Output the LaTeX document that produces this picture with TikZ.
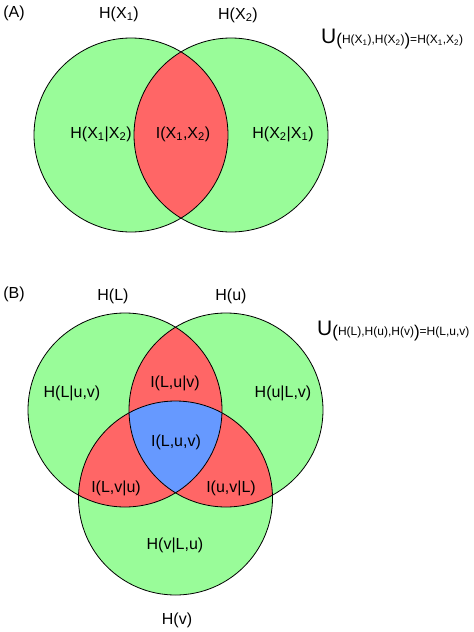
\documentclass[tikz,border=0pt]{standalone}
\usepackage{fontspec}
\setmainfont{Liberation Sans}
\definecolor{vgreen}{RGB}{153,252,153}
\definecolor{vred}{RGB}{255,102,102}
\definecolor{vblue}{RGB}{102,153,255}
\newcommand{\bigU}{{\fontsize{21}{21}\selectfont U}}
\newcommand{\bigpar}[1]{\raisebox{-1.5pt}{\fontsize{17}{17}\selectfont #1}}
\begin{document}
\begin{tikzpicture}[x=1pt,y=-1pt,
  lab/.style={font=\fontsize{16}{19}\selectfont, inner sep=0pt},
  frm/.style={font=\fontsize{12}{14}\selectfont, inner sep=0pt, anchor=west},
  outline/.style={draw=black, line width=0.8pt}]
\useasboundingbox (0,0) rectangle (474,632);
% ---------- Panel A ----------
\coordinate (A1) at (131,135);
\coordinate (A2) at (231,135);
\fill[vgreen] (A1) circle[radius=97pt];
\fill[vgreen] (A2) circle[radius=97pt];
\begin{scope}
  \clip (A1) circle[radius=97pt];
  \fill[vred] (A2) circle[radius=97pt];
\end{scope}
\draw[outline] (A1) circle[radius=97pt];
\draw[outline] (A2) circle[radius=97pt];
\node[lab] (pa) at (14,13) {(A)};
\node[lab] (hx1) at (119,14) {H(X\textsubscript{1})};
\node[lab] (hx2) at (238,15) {H(X\textsubscript{2})};
\node[lab] (h12) at (101,134) {H(X\textsubscript{1}|X\textsubscript{2})};
\node[lab] (i12) at (183,134) {I(X\textsubscript{1},X\textsubscript{2})};
\node[lab] (h21) at (283,134) {H(X\textsubscript{2}|X\textsubscript{1})};
\node[frm] (fa) at (321,39) {\bigU\bigpar{(}H(X\textsubscript{1}),H(X\textsubscript{2})\bigpar{)}=H(X\textsubscript{1},X\textsubscript{2})};
% ---------- Panel B ----------
\coordinate (BL) at (125,410);
\coordinate (BU) at (226,410);
\coordinate (BV) at (175.5,498);
\fill[vgreen] (BL) circle[radius=97pt];
\fill[vgreen] (BU) circle[radius=97pt];
\fill[vgreen] (BV) circle[radius=97pt];
\begin{scope}
  \clip (BL) circle[radius=97pt];
  \fill[vred] (BU) circle[radius=97pt];
  \fill[vred] (BV) circle[radius=97pt];
\end{scope}
\begin{scope}
  \clip (BU) circle[radius=97pt];
  \fill[vred] (BV) circle[radius=97pt];
\end{scope}
\begin{scope}
  \clip (BL) circle[radius=97pt];
  \clip (BU) circle[radius=97pt];
  \fill[vblue] (BV) circle[radius=97pt];
\end{scope}
\draw[outline] (BL) circle[radius=97pt];
\draw[outline] (BU) circle[radius=97pt];
\draw[outline] (BV) circle[radius=97pt];
\node[lab] (pb) at (14,294) {(B)};
\node[lab] (hl) at (113,296) {H(L)};
\node[lab] (hu) at (231,296) {H(u)};
\node[lab] (hv) at (177,620) {H(v)};
\node[lab] (hluv) at (72,393) {H(L|u,v)};
\node[lab] (iluv) at (175,383) {I(L,u|v)};
\node[lab] (hulv) at (283,393) {H(u|L,v)};
\node[lab] (iall) at (176,442) {I(L,u,v)};
\node[lab] (ilvu) at (116,488) {I(L,v|u)};
\node[lab] (iuvl) at (231,488) {I(u,v|L)};
\node[lab] (hvlu) at (175,545) {H(v|L,u)};
\node[frm] (fb) at (317,331) {\bigU\bigpar{(}H(L),H(u),H(v)\bigpar{)}=H(L,u,v)};
\end{tikzpicture}
\end{document}
